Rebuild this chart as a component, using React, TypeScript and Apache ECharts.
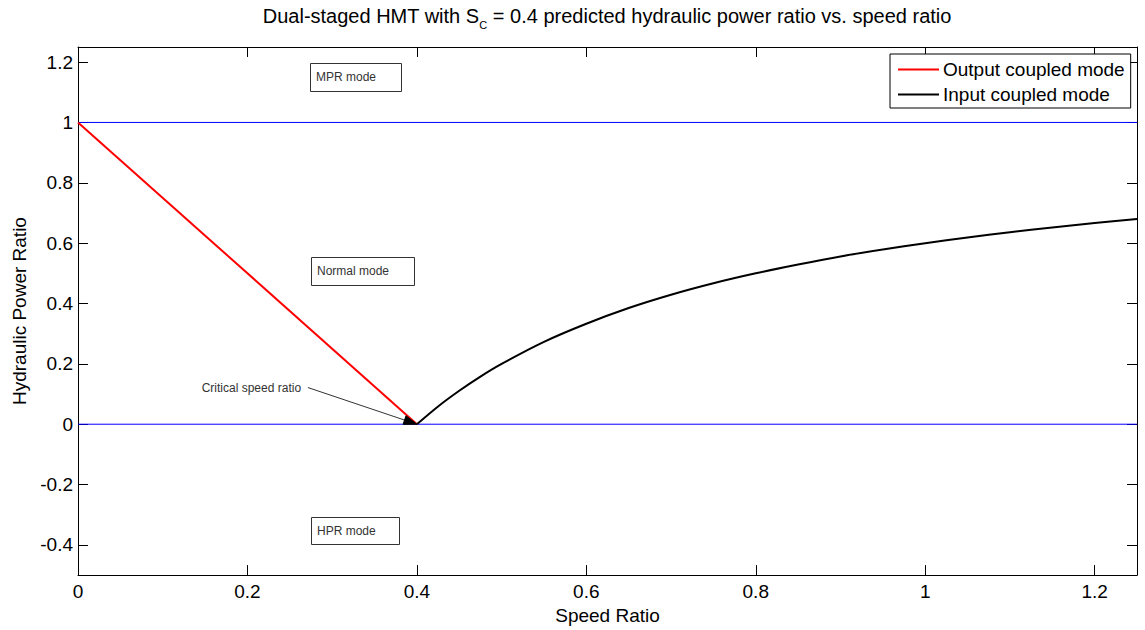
import React, { useEffect, useRef } from "react";
import * as echarts from "echarts";

// ---- data ----
const xTicks = [0, 0.2, 0.4, 0.6, 0.8, 1, 1.2];
const yTicks = [-0.4, -0.2, 0, 0.2, 0.4, 0.6, 0.8, 1, 1.2];

// Output coupled mode (red)
const outputSpeed = [0, 0.4];
const outputPower = [1, 0];

// Input coupled mode (black)
const inputSpeed = [0.4, 0.425, 0.45, 0.475, 0.5, 0.55, 0.6, 0.65, 0.7, 0.75, 0.8, 0.85, 0.9, 0.95, 1.0, 1.05, 1.1, 1.15, 1.2, 1.25];
const inputPower = [0, 0.059, 0.111, 0.158, 0.2, 0.273, 0.333, 0.385, 0.429, 0.467, 0.5, 0.529, 0.556, 0.579, 0.6, 0.619, 0.636, 0.652, 0.667, 0.68];

// mode boundaries (blue)
const boundaryLevels = [0, 1];
const speedRange = [0, 1.25];
const powerRange = [-0.5, 1.25];

// annotation texts (data coords of top-left corner)
const modeLabels = [
  { text: "MPR mode", x: 0.274, y: 1.196, w: 91, h: 28 },
  { text: "Normal mode", x: 0.275, y: 0.555, w: 103, h: 28 },
  { text: "HPR mode", x: 0.275, y: -0.306, w: 88, h: 27 },
];
const criticalLabel = { text: "Critical speed ratio", x: 0.146, y: 0.1215, endX: 0.2714 };
const criticalPoint = [0.4, 0];

const FONT = "'Liberation Sans', Arial, Helvetica, sans-serif";
const FS = 19;

function zip(a: number[], b: number[]) {
  return a.map((v, i) => [v, b[i]]);
}

export default function App() {
  const ref = useRef<HTMLDivElement>(null);
  useEffect(() => {
    if (!ref.current) return;
    const chart = echarts.init(ref.current, null, { renderer: "svg" });
    const axisLine = { show: true, onZero: false, lineStyle: { color: "#000", width: 1 } };
    const tick = { show: true, inside: true, length: 10, lineStyle: { color: "#000", width: 1 } };
    const option: any = {
      animation: false,
      backgroundColor: "#fff",
      title: {
        text: "{a|Dual-staged HMT with S}{s|C}{a| = 0.4 predicted hydraulic power ratio vs. speed ratio}",
        left: 607,
        textAlign: "center",
        top: 2,
        padding: 0,
        textStyle: {
          fontWeight: "normal",
          rich: {
            a: { fontSize: 20, fontWeight: "normal", fontFamily: FONT, color: "#000", lineHeight: 28, verticalAlign: "middle" },
            s: { fontSize: 11, fontWeight: "normal", fontFamily: FONT, color: "#000", lineHeight: 11, verticalAlign: "bottom" },
          },
        },
      },
      grid: { left: 78, right: 8, top: 47, bottom: 51, containLabel: false },
      legend: {
        data: ["Output coupled mode", "Input coupled mode"],
        orient: "vertical",
        left: 890,
        top: 54,
        padding: [6, 6, 4, 7],
        itemGap: 6,
        itemWidth: 41,
        itemHeight: 19,
        backgroundColor: "#fff",
        borderColor: "#000",
        borderWidth: 1,
        itemStyle: { opacity: 0 },
        textStyle: { fontSize: FS, fontFamily: FONT, color: "#000", padding: [0, 0, 0, -1] },
      },
      xAxis: [
        {
          type: "value",
          position: "bottom",
          min: speedRange[0],
          max: speedRange[1],
          axisLine,
          splitLine: { show: false },
          axisTick: { ...tick, customValues: xTicks },
          axisLabel: { customValues: xTicks, fontSize: FS, fontFamily: FONT, color: "#000", margin: 7 },
          name: "Speed Ratio",
          nameLocation: "middle",
          nameGap: 29,
          nameTextStyle: { fontSize: FS, fontFamily: FONT, color: "#000" },
        },
        {
          type: "value",
          position: "top",
          min: speedRange[0],
          max: speedRange[1],
          axisLine: { ...axisLine, onZero: false },
          splitLine: { show: false },
          axisTick: { ...tick, customValues: xTicks },
          axisLabel: { show: false },
        },
      ],
      yAxis: [
        {
          type: "value",
          position: "left",
          min: powerRange[0],
          max: powerRange[1],
          axisLine,
          splitLine: { show: false },
          axisTick: { ...tick, customValues: yTicks },
          axisLabel: { customValues: yTicks, fontSize: FS, fontFamily: FONT, color: "#000", margin: 5 },
          name: "Hydraulic Power Ratio",
          nameLocation: "middle",
          nameGap: 47,
          nameTextStyle: { fontSize: FS, fontFamily: FONT, color: "#000" },
        },
        {
          type: "value",
          position: "right",
          min: powerRange[0],
          max: powerRange[1],
          axisLine: { ...axisLine, onZero: false },
          splitLine: { show: false },
          axisTick: { ...tick, customValues: yTicks },
          axisLabel: { show: false },
        },
      ],
      series: [
        ...boundaryLevels.map((lv, i) => ({
          name: "boundary" + i,
          type: "line",
          symbol: "none",
          silent: true,
          data: speedRange.map((s) => [s, lv]),
          lineStyle: { color: "#0000ff", width: 1 },
          itemStyle: { color: "#0000ff" },
          z: 5,
        })),
        {
          name: "Output coupled mode",
          type: "line",
          symbol: "none",
          data: zip(outputSpeed, outputPower),
          lineStyle: { color: "#ff0000", width: 2 },
          itemStyle: { color: "#ff0000" },
          z: 6,
        },
        {
          name: "Input coupled mode",
          type: "line",
          symbol: "none",
          smooth: 0.3,
          data: zip(inputSpeed, inputPower),
          lineStyle: { color: "#000000", width: 2 },
          itemStyle: { color: "#000000" },
          z: 6,
        },
      ],
    };
    chart.setOption(option);

    const px = (x: number, y: number) => chart.convertToPixel({ gridIndex: 0 }, [x, y]) as number[];
    const graphics: any[] = [];
    modeLabels.forEach((m) => {
      const [gx, gy] = px(m.x, m.y);
      graphics.push({
        type: "rect",
        shape: { x: Math.round(gx) + 0.5, y: Math.round(gy) + 0.5, width: m.w, height: m.h },
        style: { fill: "#fff", stroke: "#333", lineWidth: 1 },
        z: 10,
      });
      graphics.push({
        type: "text",
        x: Math.round(gx) + 6,
        y: Math.round(gy) + m.h / 2,
        style: { text: m.text, font: `12px ${FONT}`, fill: "#333", verticalAlign: "middle" },
        z: 11,
      });
    });
    const [tx, ty] = px(criticalLabel.x, criticalLabel.y);
    graphics.push({
      type: "text",
      x: tx,
      y: ty,
      style: { text: criticalLabel.text, font: `12px ${FONT}`, fill: "#333", verticalAlign: "middle" },
      z: 11,
    });
    const [sx, sy] = px(criticalLabel.endX, criticalLabel.y);
    const [ex, ey] = px(criticalPoint[0], criticalPoint[1]);
    const ang = Math.atan2(ey - sy, ex - sx);
    const L = 13, W = 4.5;
    const bx = ex - L * Math.cos(ang), by = ey - L * Math.sin(ang);
    graphics.push({
      type: "line",
      shape: { x1: sx, y1: sy, x2: bx, y2: by },
      style: { stroke: "#333", lineWidth: 1 },
      z: 11,
    });
    graphics.push({
      type: "polygon",
      shape: {
        points: [
          [ex, ey],
          [bx + W * Math.sin(ang), by - W * Math.cos(ang)],
          [bx - W * Math.sin(ang), by + W * Math.cos(ang)],
        ],
      },
      style: { fill: "#000", stroke: "#000", lineWidth: 1 },
      z: 11,
    });
    chart.setOption({ graphic: graphics });

    return () => chart.dispose();
  }, []);
  return (
    <div
      ref={ref}
      style={{ position: "fixed", left: 0, top: 0, width: 1145, height: 630, background: "#fff" }}
    />
  );
}
